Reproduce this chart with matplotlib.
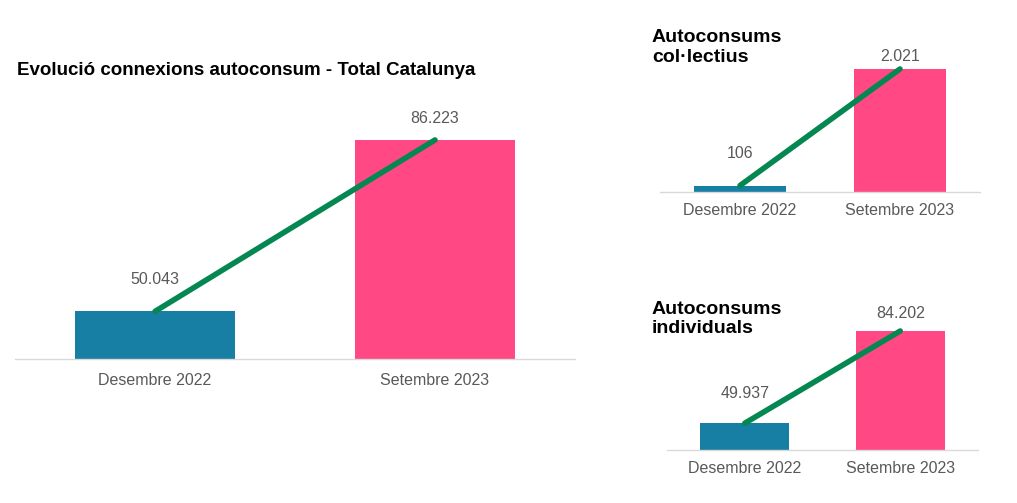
import matplotlib
matplotlib.use("Agg")
import matplotlib.pyplot as plt

plt.rcParams['font.family'] = ['Liberation Sans', 'DejaVu Sans']

categories = ["Desembre 2022", "Setembre 2023"]
total_values = [50043, 86223]
collectius_values = [106, 2021]
individuals_values = [49937, 84202]
total_labels = ["50.043", "86.223"]
collectius_labels = ["106", "2.021"]
individuals_labels = ["49.937", "84.202"]

BLUE = "#167FA3"
PINK = "#FF4884"
GREEN = "#058752"
GRAY = "#595959"
AXIS = "#D9D9D9"

W, H = 1017, 503
fig = plt.figure(figsize=(W / 100, H / 100), dpi=100)


def add_axes_px(left, right, bottom, top):
    return fig.add_axes([left / W, 1 - bottom / H, (right - left) / W, (bottom - top) / H])


def draw(ax, values, labels, ylim, offsets, tickpad):
    x = list(range(len(categories)))
    ax.bar(x, values, width=0.57, color=[BLUE, PINK], zorder=2)
    ax.plot(x, values, color=GREEN, lw=4.0, solid_capstyle='round', zorder=3)
    for xi, v, lab, off in zip(x, values, labels, offsets):
        ax.annotate(lab, (xi, v), xytext=(0, off), textcoords='offset points',
                    ha='center', va='baseline', fontsize=11.5, color=GRAY)
    ax.set_xlim(-0.5, 1.5)
    ax.set_ylim(*ylim)
    ax.set_xticks(x)
    ax.set_xticklabels(categories, fontsize=11.5, color=GRAY)
    ax.tick_params(axis='x', length=0, pad=tickpad)
    ax.set_yticks([])
    for s in ['top', 'left', 'right']:
        ax.spines[s].set_visible(False)
    ax.spines['bottom'].set_color(AXIS)
    ax.spines['bottom'].set_linewidth(1.0)
    ax.patch.set_alpha(0)


# offsets: label baseline above the bar top, in points
ax1 = add_axes_px(15, 575, 359, 100)
draw(ax1, total_values, total_labels, (40000, 94650), [19.5, 12.5], 10)

ax2 = add_axes_px(660, 980, 192, 40)
draw(ax2, collectius_values, collectius_labels, (0, 2497), [19.5, 6], 8)

ax3 = add_axes_px(667, 978, 450, 300)
draw(ax3, individuals_values, individuals_labels, (40000, 95710), [18.5, 9.5], 8)


def ftext(x, y, s, **kw):
    fig.text(x / W, 1 - y / H, s, ha='left', va='baseline', color='black',
             fontweight='bold', **kw)


ftext(17, 75, "Evolució connexions autoconsum - Total Catalunya", fontsize=13.5)
ftext(652, 42, "Autoconsums", fontsize=14)
ftext(652, 62, "col·lectius", fontsize=14)
ftext(652, 314, "Autoconsums", fontsize=14)
ftext(652, 333, "individuals", fontsize=14)

fig.savefig("out.png", dpi=100, facecolor='white')
